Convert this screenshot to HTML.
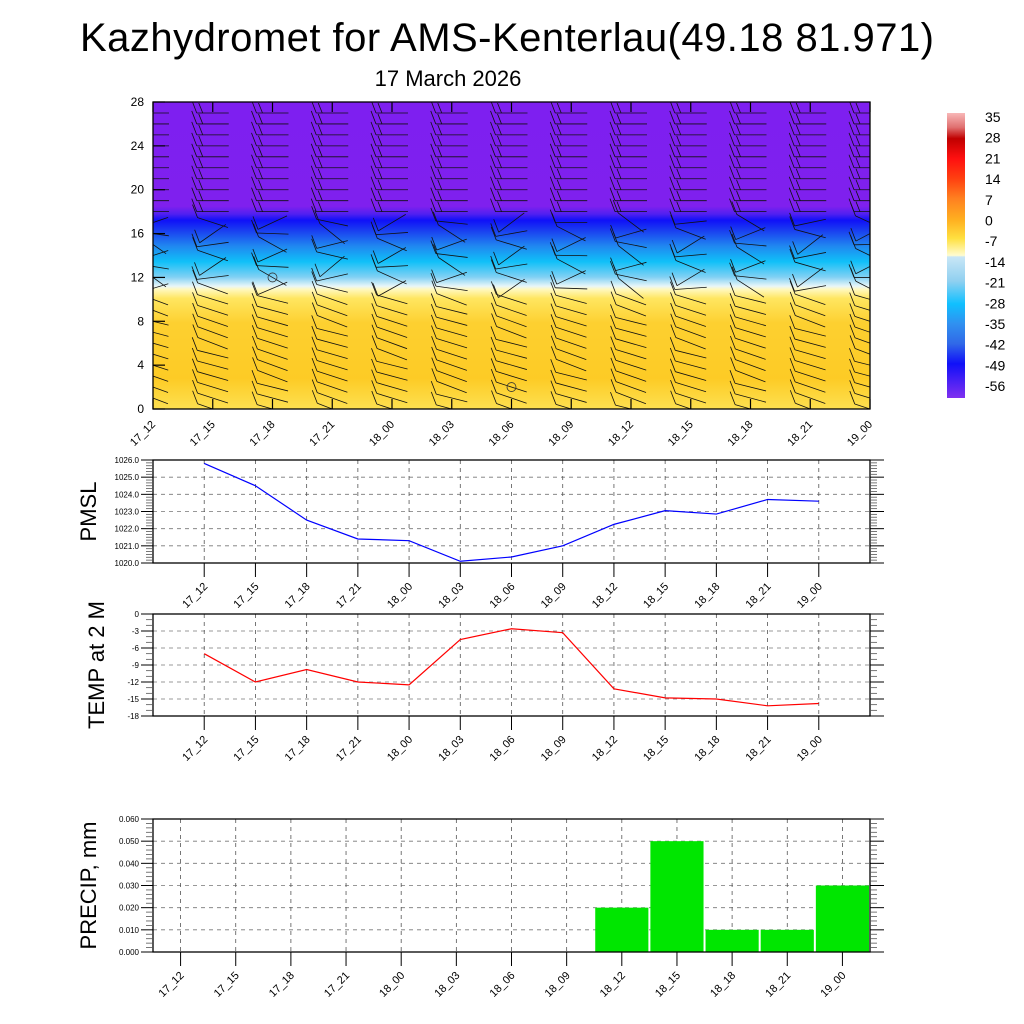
<!DOCTYPE html>
<html><head><meta charset="utf-8"><style>
html,body{margin:0;padding:0;background:#fff;}
svg{display:block;font-family:"Liberation Sans",sans-serif;}
</style></head><body>
<svg id="s" width="1024" height="1024" viewBox="0 0 1024 1024">
<defs>
<clipPath id="xclip"><rect x="153" y="102" width="717" height="307"/></clipPath>
<linearGradient id="tg" x1="0" y1="0" x2="0" y2="1">
<stop offset="0" stop-color="#7e1ff0"/>
<stop offset="0.34" stop-color="#7f20ee"/>
<stop offset="0.365" stop-color="#5020f0"/>
<stop offset="0.385" stop-color="#1010f8"/>
<stop offset="0.42" stop-color="#1a40f0"/>
<stop offset="0.47" stop-color="#2088f0"/>
<stop offset="0.52" stop-color="#10c0f8"/>
<stop offset="0.57" stop-color="#80d0f4"/>
<stop offset="0.60" stop-color="#e8f6f8"/>
<stop offset="0.61" stop-color="#fff8c0"/>
<stop offset="0.64" stop-color="#ffe660"/>
<stop offset="0.72" stop-color="#fdd030"/>
<stop offset="0.90" stop-color="#fdcb25"/>
<stop offset="1" stop-color="#fde050"/>
</linearGradient>
<linearGradient id="cg" x1="0" y1="0" x2="0" y2="1">
<stop offset="0" stop-color="#f8b8b8"/>
<stop offset="0.05" stop-color="#e07070"/>
<stop offset="0.09" stop-color="#c00000"/>
<stop offset="0.16" stop-color="#ff1010"/>
<stop offset="0.23" stop-color="#ff4010"/>
<stop offset="0.30" stop-color="#ff8020"/>
<stop offset="0.375" stop-color="#ffb020"/>
<stop offset="0.44" stop-color="#ffe040"/>
<stop offset="0.50" stop-color="#fffcd0"/>
<stop offset="0.505" stop-color="#c8e6f6"/>
<stop offset="0.59" stop-color="#90d0f0"/>
<stop offset="0.67" stop-color="#10c0ff"/>
<stop offset="0.74" stop-color="#3090f0"/>
<stop offset="0.81" stop-color="#3068e8"/>
<stop offset="0.88" stop-color="#1010f8"/>
<stop offset="1" stop-color="#8030f0"/>
</linearGradient>
</defs>
<text x="507" y="51" font-size="40" text-anchor="middle" textLength="854">Kazhydromet for AMS-Kenterlau(49.18 81.971)</text>
<text x="448" y="86" font-size="22" text-anchor="middle">17 March 2026</text>
</svg>
<script>
const times = ["17_12","17_15","17_18","17_21","18_00","18_03","18_06","18_09","18_12","18_15","18_18","18_21","19_00"];
const pmsl = [1025.8,1024.5,1022.5,1021.4,1021.3,1020.1,1020.35,1021.0,1022.25,1023.05,1022.85,1023.7,1023.6];
const temp2m = [-7,-12,-9.8,-12,-12.5,-4.5,-2.6,-3.3,-13.2,-14.8,-15,-16.2,-15.8];
const precip = [0,0,0,0,0,0,0,0,0.02,0.05,0.01,0.01,0.03];
const heightTicks = [0,4,8,12,16,20,24,28];
const pmslTicks = [1020,1021,1022,1023,1024,1025,1026];
const tempTicks = [-18,-15,-12,-9,-6,-3,0];
const precipTicks = [0,0.01,0.02,0.03,0.04,0.05,0.06];
const colorbarLabels = ["35","28","21","14","7","0","-7","-14","-21","-28","-35","-42","-49","-56"];

const SV=document.getElementById('s');
const NS="http://www.w3.org/2000/svg";
function mk(tag,attrs,parent){const e=document.createElementNS(NS,tag);for(const k in attrs)e.setAttribute(k,attrs[k]);(parent||SV).appendChild(e);return e;}
const X0=153,X1=870;

const xsec=mk('g',{});


const TY0=102,TY1=409;
const ty=v=>TY1-(v-0)/28*(TY1-TY0);
const tx=i=>X0+i*(X1-X0)/12;
const bg=mk('rect',{x:X0,y:TY0,width:X1-X0,height:TY1-TY0,fill:'url(#tg)'},xsec);


const barbs=mk('g',{stroke:'#111','stroke-width':'0.8',fill:'none','clip-path':'url(#xclip)'},xsec);


for(let i=0;i<13;i++){
  for(let h=0;h<=28;h++){
    const x=tx(i),y=ty(h);
    const half=16;
    let ang;
    if(h>=18) ang=0; else if(h>=11) ang=((i*37+h*53)%80)-40; else ang=14+((i*13+h*7)%8);
    const r=ang*Math.PI/180;
    const sx=x-half*Math.cos(r), sy=y-half*Math.sin(r);
    const ex=x+half*Math.cos(r), ey=y+half*Math.sin(r);
    mk('line',{x1:sx,y1:sy,x2:ex,y2:ey},barbs);
    mk('line',{x1:sx,y1:sy,x2:sx-5,y2:sy-13},barbs);
    if(h>=18) mk('line',{x1:sx+6,y1:sy,x2:sx+2,y2:sy-10},barbs);
  }
}
mk('circle',{cx:tx(2),cy:ty(12),r:4.5,fill:'none',stroke:'#333','stroke-width':'0.8'},xsec);
mk('circle',{cx:tx(6),cy:ty(2),r:4.5,fill:'none',stroke:'#333','stroke-width':'0.8'},xsec);
const tf=mk('rect',{x:X0,y:TY0,width:X1-X0,height:TY1-TY0,fill:'none',stroke:'#000','stroke-width':'1.3'},xsec);


heightTicks.forEach(v=>{
  mk('line',{x1:X0,y1:ty(v),x2:X0+12,y2:ty(v),stroke:'#000','stroke-width':'1.2'},xsec);
  const t=mk('text',{x:X0-9,y:ty(v)+4,'font-size':'12','text-anchor':'end'},xsec);t.textContent=v;
  
  
});
times.forEach((lab,i)=>{
  const x=tx(i);
  mk('line',{x1:x,y1:TY1,x2:x,y2:TY1-10,stroke:'#000','stroke-width':'1.2'},xsec);
  mk('line',{x1:x,y1:TY0,x2:x,y2:TY0+10,stroke:'#000','stroke-width':'1.2'},xsec);
  const t=mk('text',{x:x+3,y:TY1+16,'font-size':'11','text-anchor':'end',transform:`rotate(-45 ${x+3} ${TY1+16})`},xsec);t.textContent=lab;
  
  
});
const cb=mk('g',{});


mk('rect',{x:947,y:113,width:18,height:285,fill:'url(#cg)'},cb);
colorbarLabels.forEach((l,k)=>{
  const t=mk('text',{x:985,y:122+k*20.7,'font-size':'14'},cb);t.textContent=l;
  
  
});

function panel(name,y0,y1,ticks,fmt,fsz,ttl,titleX,vals,kind,color,minorN){
  const g=mk('g',{});
  
  
  const lo=ticks[0],hi=ticks[ticks.length-1];
  const py=v=>y1-(v-lo)/(hi-lo)*(y1-y0);
  let px,n=times.length;
  if(kind==='bar'){const w=(X1-X0)/n;px=i=>X0+(i+0.5)*w;} else {const w=(X1-X0)/(n+1);px=i=>X0+(i+1)*w;}
  ticks.slice(1,-1).forEach(v=>mk('line',{x1:X0,y1:py(v),x2:X1,y2:py(v),stroke:'#777','stroke-width':'0.8','stroke-dasharray':'4 4'},g));
  times.forEach((_,i)=>mk('line',{x1:px(i),y1:y0,x2:px(i),y2:y1,stroke:'#555','stroke-width':'0.8','stroke-dasharray':'4 4'},g));
  if(kind==='bar'){
    const w=(X1-X0)/n;
    vals.forEach((v,i)=>{if(v<=0)return;
      const b=mk('rect',{x:px(i)-w/2+1,y:py(v),width:w-2,height:y1-py(v),fill:color},g);
      
      });
  } else {
    const l=mk('polyline',{points:vals.map((v,i)=>px(i)+','+py(v)).join(' '),fill:'none',stroke:color,'stroke-width':'1.2'},g);
    
    
  }
  const f=mk('rect',{x:X0,y:y0,width:X1-X0,height:y1-y0,fill:'none',stroke:'#000','stroke-width':'1.3'},g);
  
  
  ticks.forEach((v,k)=>{
    mk('line',{x1:X0-12,y1:py(v),x2:X0,y2:py(v),stroke:'#000','stroke-width':'1'},g);
    mk('line',{x1:X1,y1:py(v),x2:X1+14,y2:py(v),stroke:'#000','stroke-width':'1'},g);
    const t=mk('text',{x:X0-14,y:py(v)+3,'font-size':fsz,'text-anchor':'end'},g);t.textContent=fmt(v);
    
    
    if(k<ticks.length-1){for(let m=1;m<minorN;m++){const yy=py(v)+(py(ticks[k+1])-py(v))*m/minorN;
      mk('line',{x1:X0-7,y1:yy,x2:X0,y2:yy,stroke:'#555','stroke-width':'0.8'},g);
      mk('line',{x1:X1,y1:yy,x2:X1+7,y2:yy,stroke:'#555','stroke-width':'0.8'},g);}}
  });
  times.forEach((lab,i)=>{
    const x=px(i);
    mk('line',{x1:x,y1:y1,x2:x,y2:y1+14,stroke:'#000','stroke-width':'1'},g);
    const t=mk('text',{x:x+4,y:y1+24,'font-size':'11','text-anchor':'end',transform:`rotate(-45 ${x+4} ${y1+24})`},g);t.textContent=lab;
    
    
  });
  const cy=(y0+y1)/2;
  const tt=mk('text',{x:titleX,y:cy,'font-size':'22','text-anchor':'middle',transform:`rotate(-90 ${titleX} ${cy})`},g);tt.textContent=ttl;
  
  
}
panel('pmsl-panel',460,563,pmslTicks,v=>v.toFixed(1),'8','PMSL',96,pmsl,'line','#0000ff',6);
panel('temp-panel',614,716,tempTicks,v=>String(v),'8','TEMP at 2 M',104,temp2m,'line','#ff0000',3);
panel('precip-panel',819,952,precipTicks,v=>v.toFixed(3),'8','PRECIP, mm',96,precip,'bar','#00e600',5);
</script>
</body></html>
